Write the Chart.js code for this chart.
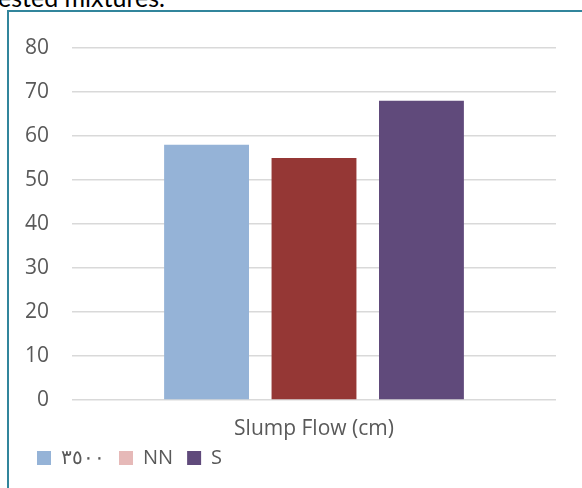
<!DOCTYPE html>
<html>
<head>
<meta charset="utf-8">
<script src="https://cdn.jsdelivr.net/npm/chart.js@4"></script>
<style>
  html, body { margin: 0; padding: 0; background: #fff; overflow: hidden; }
  #wrap { position: relative; width: 582px; height: 488px; overflow: hidden; }
  #caption { position: absolute; left: -2px; top: -15px; font: 25px Lato, sans-serif; color: #000; white-space: nowrap; line-height: 1; }
  #frame { position: absolute; left: 7px; top: 10px; width: 600px; height: 500px;
           border-left: 2px solid #31859c; border-top: 2px solid #31859c; pointer-events: none; }
  #chart { position: absolute; left: 0; top: 0; }
</style>
</head>
<body>
<div id="wrap">
  <div id="caption">ested mixtures.</div>
  <canvas id="chart" width="582" height="488"></canvas>
  <div id="frame"></div>
</div>
<script>
// Category and series
const categories = ['Slump Flow (cm)'];
const seriesNames = ['٣٥٠٠', 'NN', 'S'];
const seriesValues = [58, 55, 68];

// Axis ticks
const yMin = 0;
const yMax = 80;
const yStep = 10;

// Colours
const barColors = ['#95b3d7', '#953735', '#604a7b'];
const legendColors = ['#95b3d7', '#e6b9b8', '#604a7b'];
const textColor = '#595959';
const gridColor = '#d9d9d9';
const fontFamily = '"Open Sans", Lato, sans-serif';

const datasets = seriesNames.map((name, i) => ({
  label: name,
  data: [seriesValues[i]],
  backgroundColor: barColors[i],
  borderWidth: 0,
  categoryPercentage: 0.666,
  barPercentage: 0.79
}));

new Chart(document.getElementById('chart'), {
  type: 'bar',
  data: { labels: categories, datasets },
  options: {
    responsive: false,
    animation: false,
    layout: { padding: { left: 23, right: 26, top: 48, bottom: 10 } },
    plugins: {
      tooltip: { enabled: false },
      legend: {
        position: 'bottom',
        align: 'start',
        labels: {
          boxWidth: 14,
          boxHeight: 14,
          padding: 14,
          color: textColor,
          font: { family: fontFamily, size: 20 },
          generateLabels: (chart) => seriesNames.map((name, i) => ({
            text: name,
            fillStyle: legendColors[i],
            strokeStyle: legendColors[i],
            lineWidth: 0,
            fontColor: textColor,
            datasetIndex: i,
            hidden: false
          }))
        }
      }
    },
    scales: {
      x: {
        grid: { display: false },
        border: { display: false },
        ticks: { display: false },
        // the single category name sits centred under the bars
        title: {
          display: true,
          text: categories[0],
          color: textColor,
          font: { family: fontFamily, size: 21 },
          padding: { top: 0, bottom: -8 }
        },
        afterFit: (scale) => { scale.height = 34; }
      },
      y: {
        min: yMin,
        max: yMax,
        ticks: { stepSize: yStep, color: textColor, font: { family: fontFamily, size: 21 }, padding: 23 },
        grid: { color: gridColor, lineWidth: 1.5, drawTicks: false },
        border: { display: false },
        afterFit: (scale) => { scale.width = 49; }
      }
    }
  }
});
</script>
</body>
</html>
